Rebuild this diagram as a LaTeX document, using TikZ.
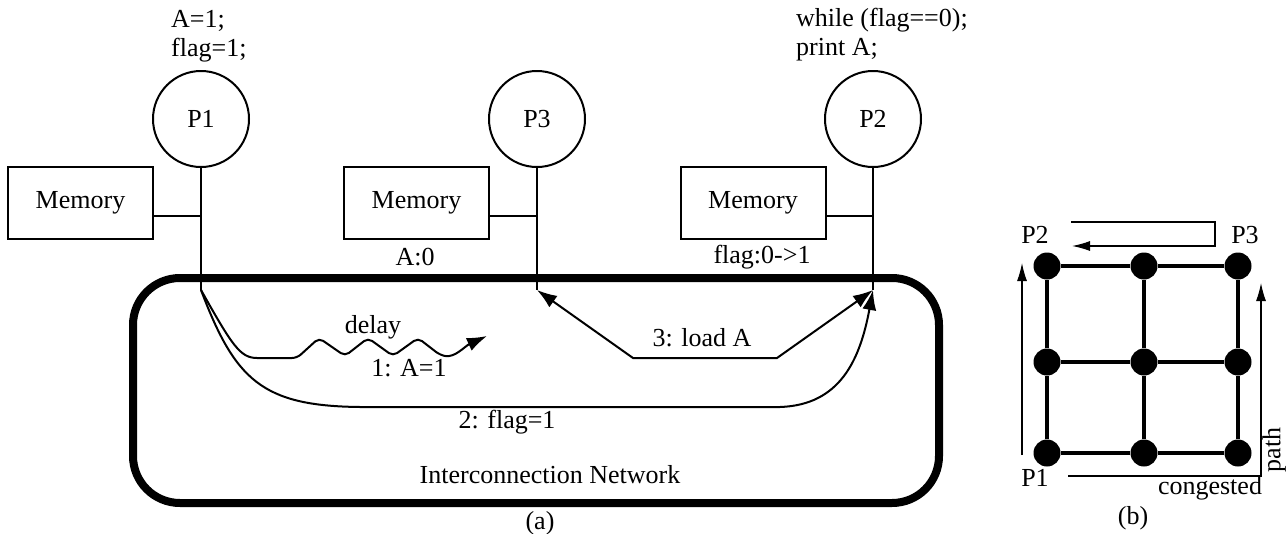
\documentclass[tikz,border=0pt]{standalone}
\usepackage{fontspec}
\setmainfont{Liberation Serif}
\usetikzlibrary{arrows.meta,calc}
\begin{document}
\begin{tikzpicture}[x=1pt,y=-1pt,
  every node/.style={font=\fontsize{26}{29}\selectfont, inner sep=0pt},
  thin line/.style={line width=2pt},
  proc/.style={circle, draw, line width=2pt, minimum size=96pt},
  memory/.style={rectangle, draw, line width=2pt, minimum width=145pt, minimum height=72pt},
  net/.style={rectangle, draw, line width=8pt, rounded corners=47pt, minimum width=806pt, minimum height=225pt},
  bigarrow/.style={line width=2pt, -{Latex[length=20pt,width=14pt]}},
  gridouter/.style={line width=4pt},
  gridinner/.style={line width=3.2pt},
  dot/.style={circle, fill=black, minimum size=27pt},
  smallarrow/.style={line width=1.2pt, -{Latex[length=18pt,width=10pt]}},
  txt/.style={}
]
\useasboundingbox (0,0) rectangle (1288,533);

% processors
\node[proc] (p1) at (201,119) {P1};
\node[proc] (p3) at (537,119) {P3};
\node[proc] (p2) at (873,119) {P2};

% code
\node[txt, anchor=west, align=left] (code1) at (171,36) {A=1;\\flag=1;};
\node[txt, anchor=west, align=left] (code2) at (796,35) {while (flag==0);\\print A;};

% memories
\node[memory] (m1) at (80.5,203) {Memory};
\node[memory] (m2) at (416.5,203) {Memory};
\node[memory] (m3) at (753,203) {Memory};

\node[txt] (a0) at (415,257) {A:0};
\node[txt] (fl) at (762,257) {flag:0->1};

% network
\node[net] (net) at (536,390.5) {};
\node[txt] (netlbl) at (550,475) {Interconnection Network};
\node[txt] (cap a) at (540,523) {(a)};

% bus taps
\coordinate (b1) at (201,290);
\coordinate (b3) at (537,290);
\coordinate (b2) at (873,290);
\draw[thin line] (p1.south) -- (b1);
\draw[thin line] (p3.south) -- (b3);
\draw[thin line] (p2.south) -- (b2);

\coordinate (m1c) at ($(m1.south east)!0.32!(m1.north east)$);
\coordinate (m2c) at ($(m2.south east)!0.32!(m2.north east)$);
\coordinate (m3c) at ($(m3.south east)!0.32!(m3.north east)$);
\draw[thin line] (m1c) -- (m1c -| p1.south);
\draw[thin line] (m2c) -- (m2c -| p3.south);
\draw[thin line] (m3c) -- (m3c -| p2.south);

% message 1 (delayed)
\coordinate (d1) at (487,336);
\draw[bigarrow, rounded corners=5pt] (b1) .. controls (232,345) and (240,358) .. (262,358)
  -- (297,358) -- (319,338) -- (345,356) -- (368,338) -- (393,356) -- (418,338) -- (440,355)
  [sharp corners] .. controls (455,358) and (465,346) .. (d1);
\node[txt] (delay) at (373,327) {delay};
\node[txt] (m1lbl) at (409,368) {1: A=1};

% message 2
\draw[bigarrow] (b1) .. controls (235,380) and (262,406) .. (360,407)
  -- (780,407) .. controls (840,405) and (860,360) .. (b2);
\node[txt] (m2lbl) at (507,422) {2: flag=1};

% message 3
\coordinate (l1) at (633,358);
\coordinate (l2) at (777,358);
\draw[line width=2pt, {Latex[length=20pt,width=14pt]}-{Latex[length=20pt,width=14pt]}]
  (b3) -- (l1) -- (l2) -- (b2);
\node[txt] (m3lbl) at (702,338) {3: load A};

% ---------- panel (b) ----------
\foreach \i/\x in {0/1047,1/1144,2/1238}{
  \foreach \j/\y in {0/266,1/362,2/453}{
    \node[dot] (g\i\j) at (\x,\y) {};
  }
}
\draw[gridouter] (g00) -- (g10) -- (g20) -- (g21) -- (g22) -- (g12) -- (g02) -- (g01) -- (g00);
\draw[gridinner] (g10) -- (g11) -- (g12);
\draw[gridinner] (g01) -- (g11) -- (g21);

\node[txt] (lp2) at (1035,235) {P2};
\node[txt] (lp3) at (1245,235) {P3};
\node[txt] (lp1) at (1035,478) {P1};

\coordinate (t1) at (1071,222);
\coordinate (t2) at (1215,222);
\coordinate (t3) at (1215,246);
\coordinate (t4) at (1072,246);
\draw[smallarrow] (t1) -- (t2) -- (t3) -- (t4);

\coordinate (v1) at (1022,455);
\coordinate (v2) at (1022,263);
\draw[smallarrow] (v1) -- (v2);

\coordinate (r1) at (1068,476);
\coordinate (r2) at (1261,476);
\coordinate (r3) at (1261,283);
\draw[smallarrow] (r1) -- (r2) -- (r3);

\node[txt, rotate=90] (pathlbl) at (1274,450) {path};
\node[txt] (cong) at (1210,488) {congested};
\node[txt] (cap b) at (1133,518) {(b)};
\end{tikzpicture}
\end{document}
